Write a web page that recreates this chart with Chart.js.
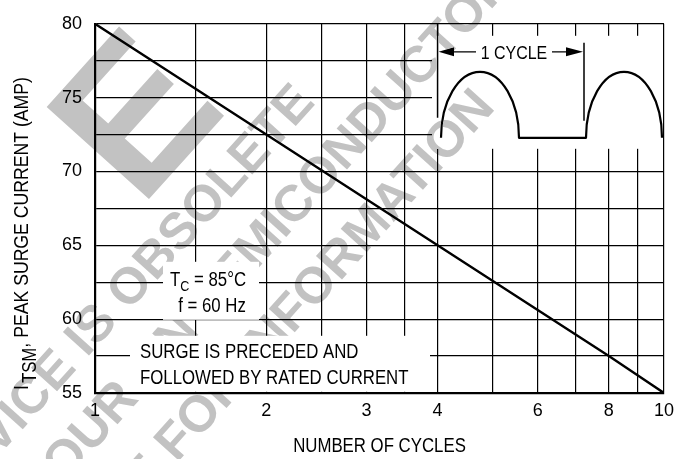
<!DOCTYPE html>
<html>
<head>
<meta charset="utf-8">
<script src="https://cdn.jsdelivr.net/npm/chart.js@4.4.1/dist/chart.umd.min.js"></script>
<style>
  html, body { margin: 0; padding: 0; background: #fff; }
  #wrap { width: 687px; height: 459px; }
</style>
</head>
<body>
<div id="wrap"><canvas id="c"></canvas></div>
<script>
// Surge current rating versus number of cycles
const cycles = [1, 2, 4, 8, 10];
const surgeAmps = [80, 72.5, 65, 57.5, 55];

// Axis grid and labels
const xGridValues = [1, 1.5, 2, 2.5, 3, 3.5, 4, 5, 6, 7, 8, 9, 10];
const xTickLabels = [1, 2, 3, 4, 6, 8, 10];
const yRange = [55, 80];
const yGridStep = 2.5;
const yLabelStep = 5;

const FONT = "'Liberation Sans', Arial, sans-serif";
const INK = '#000';
const NARROW = 0.84;   // horizontal squeeze for the condensed lettering

// condensed text: squeeze horizontally around the anchor point
function narrowText(ctx, text, x, y, size, align, weight) {
  ctx.save();
  ctx.font = (weight || '') + ' ' + size + 'px ' + FONT;
  ctx.textAlign = align || 'left';
  ctx.translate(x, y);
  ctx.scale(NARROW, 1);
  ctx.fillText(text, 0, 0);
  ctx.restore();
}
function narrowWidth(ctx, text, size) {
  ctx.save();
  ctx.font = size + 'px ' + FONT;
  const w = ctx.measureText(text).width * NARROW;
  ctx.restore();
  return w;
}

// Waveform sketch in the upper-right corner (white panel, half-wave humps, cycle arrows)
const insetPanel = {
  id: 'insetPanel',
  beforeDatasetsDraw(chart) {
    const { ctx, chartArea: a } = chart;
    ctx.save();
    ctx.fillStyle = '#fff';
    ctx.fillRect(a.left + 337, a.top + 12, a.right - a.left - 338, 113);
    ctx.restore();
  },
  afterDatasetsDraw(chart) {
    const { ctx, chartArea: a, scales } = chart;
    const L = a.left, T = a.top;
    ctx.save();
    ctx.strokeStyle = INK;
    ctx.fillStyle = INK;
    // cycle boundary markers
    const xm = scales.x.getPixelForValue(4);
    ctx.lineWidth = 1.5;
    ctx.beginPath();
    ctx.moveTo(xm, T); ctx.lineTo(xm, T + 94);
    ctx.moveTo(L + 489, T + 19); ctx.lineTo(L + 489, T + 97);
    ctx.stroke();
    // arrows
    const ay = T + 28;
    ctx.lineWidth = 1.3;
    ctx.beginPath();
    ctx.moveTo(L + 358, ay); ctx.lineTo(L + 381, ay);
    ctx.moveTo(L + 457, ay); ctx.lineTo(L + 472, ay);
    ctx.stroke();
    ctx.beginPath();
    ctx.moveTo(xm + 1, ay); ctx.lineTo(L + 359, ay - 4.5); ctx.lineTo(L + 359, ay + 4.5); ctx.closePath();
    ctx.moveTo(L + 488, ay); ctx.lineTo(L + 471, ay - 4.5); ctx.lineTo(L + 471, ay + 4.5); ctx.closePath();
    ctx.fill();
    ctx.textBaseline = 'alphabetic';
    narrowText(ctx, '1 CYCLE', L + 419, ay + 7, 19, 'center');
    // rated current humps
    const base = T + 114;
    ctx.lineWidth = 2.2;
    ctx.lineJoin = 'round';
    ctx.beginPath();
    ctx.moveTo(L + 346, base);
    ctx.ellipse(L + 385, base, 39, 66, 0, Math.PI, 2 * Math.PI);
    ctx.lineTo(L + 491, base);
    ctx.ellipse(L + 529, base, 38, 66, 0, Math.PI, 2 * Math.PI);
    ctx.stroke();
    ctx.restore();
  }
};

// Axis titles (the vertical one carries a subscript)
const axisTitles = {
  id: 'axisTitles',
  afterDatasetsDraw(chart) {
    const { ctx, chartArea: a } = chart;
    ctx.save();
    ctx.fillStyle = INK;
    ctx.textBaseline = 'alphabetic';
    narrowText(ctx, 'NUMBER OF CYCLES', (a.left + a.right) / 2, a.bottom + 59, 20, 'center');

    ctx.translate(28, 390);
    ctx.rotate(-Math.PI / 2);
    let x = 0;
    narrowText(ctx, 'I', x, 0, 21); x += narrowWidth(ctx, 'I', 21) + 2;
    narrowText(ctx, 'TSM', x, 8, 20); x += narrowWidth(ctx, 'TSM', 20);
    narrowText(ctx, ', PEAK SURGE CURRENT (AMP)', x, 0, 21);
    ctx.restore();
  }
};

// Diagonal grey archive stamp and the boxed notes on the plot
const notes = {
  id: 'notes',
  afterDraw(chart) {
    const { ctx, chartArea: a } = chart;
    const L = a.left, T = a.top;
    ctx.save();
    ctx.globalCompositeOperation = 'darken';
    ctx.fillStyle = '#c2c2c2';
    const ang = -48 * Math.PI / 180;
    // centre the word `word` of `text` on (x, y)
    const stamp = (text, word, x, y, size) => {
      ctx.save();
      ctx.font = 'bold ' + size + 'px ' + FONT;
      ctx.translate(x, y);
      ctx.rotate(ang);
      ctx.textBaseline = 'middle';
      ctx.textAlign = 'left';
      const k = text.indexOf(word);
      const off = ctx.measureText(text.slice(0, k)).width + ctx.measureText(word).width / 2;
      ctx.fillText(text, -off, 0);
      ctx.restore();
    };
    stamp('THIS DEVICE IS OBSOLETE', 'OBSOLETE', 212, 198, 51);
    stamp('CONTACT YOUR ON SEMICONDUCTOR', 'SEMICONDUCTOR', 352, 143, 51);
    stamp('REPRESENTATIVE FOR INFORMATION', 'FORMATION', 384, 212, 51);
    // large initial of the archive mark
    ctx.save();
    ctx.font = 'bold 200px ' + FONT;
    ctx.translate(140, 209);
    ctx.rotate(ang);
    ctx.textBaseline = 'alphabetic';
    ctx.fillText('E', 0, 0);
    ctx.restore();
    ctx.restore();

    ctx.save();
    ctx.fillStyle = '#fff';
    ctx.fillRect(L + 68, T + 238, 96, 58);
    ctx.fillRect(L + 35, T + 312, 300, 56);
    ctx.fillStyle = INK;
    ctx.textBaseline = 'alphabetic';
    // T_C = 85°C
    const wT = narrowWidth(ctx, 'T', 20), wC = narrowWidth(ctx, 'C', 15);
    const wRest = narrowWidth(ctx, ' = 85°C', 20);
    let x = L + 113 - (wT + wC + wRest) / 2;
    const y1 = T + 262;
    narrowText(ctx, 'T', x, y1, 20); x += wT;
    narrowText(ctx, 'C', x, y1 + 5, 15); x += wC;
    narrowText(ctx, ' = 85°C', x, y1, 20);
    narrowText(ctx, 'f = 60 Hz', L + 117, T + 288, 20, 'center');
    narrowText(ctx, 'SURGE IS PRECEDED AND', L + 45, T + 334, 20);
    narrowText(ctx, 'FOLLOWED BY RATED CURRENT', L + 45, T + 360, 20);
    ctx.restore();
  }
};

new Chart(document.getElementById('c'), {
  type: 'line',
  data: {
    datasets: [{
      data: cycles.map((c, i) => ({ x: c, y: surgeAmps[i] })),
      borderColor: INK,
      borderWidth: 2.4,
      pointRadius: 0,
      tension: 0,
      fill: false
    }]
  },
  options: {
    responsive: true,
    maintainAspectRatio: false,
    animation: false,
    devicePixelRatio: 1,
    layout: { padding: { left: 0, right: 23, top: 13, bottom: 0 } },
    plugins: { legend: { display: false }, tooltip: { enabled: false } },
    scales: {
      x: {
        type: 'logarithmic',
        min: 1,
        max: 10,
        afterBuildTicks: s => { s.ticks = xGridValues.map(v => ({ value: v })); },
        afterFit: s => { s.height = 66; },
        ticks: {
          autoSkip: false,
          maxRotation: 0,
          padding: 7,
          color: INK,
          font: { family: FONT, size: 18 },
          callback: v => (xTickLabels.includes(v) ? String(v) : '')
        },
        grid: { color: INK, lineWidth: 1.2, drawTicks: false },
        border: { display: true, color: INK, width: 2.2 }
      },
      y: {
        min: yRange[0],
        max: yRange[1],
        afterFit: s => { s.width = 95; },
        ticks: {
          stepSize: yGridStep,
          padding: 13,
          color: INK,
          font: { family: FONT, size: 18 },
          callback: v => (v % yLabelStep === 0 ? String(v) : '')
        },
        grid: { color: INK, lineWidth: 1.2, drawTicks: false },
        border: { display: true, color: INK, width: 2.2 }
      }
    }
  },
  plugins: [insetPanel, axisTitles, notes]
});
</script>
</body>
</html>
